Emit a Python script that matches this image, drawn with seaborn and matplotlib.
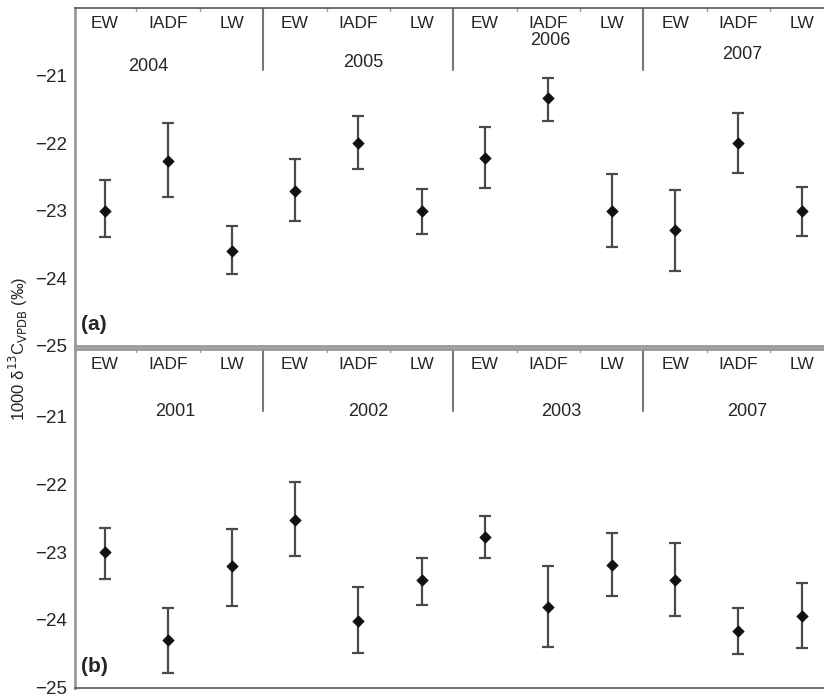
import numpy as np
import pandas as pd
import matplotlib
matplotlib.use("Agg")
import matplotlib.pyplot as plt
import seaborn as sns

sns.set_style("white")
plt.rcParams['font.family'] = ['Liberation Sans', 'DejaVu Sans']

# ------------------ DATA ------------------ #
categories = ["EW", "IADF", "LW"]

years_a = ["2004", "2005", "2006", "2007"]
mean_a = [-23.00, -22.26, -23.60, -22.71, -22.00, -23.00,
          -22.22, -21.33, -23.00, -23.29, -22.00, -23.00]
upper_a = [-22.55, -21.70, -23.23, -22.23, -21.59, -22.67,
           -21.76, -21.03, -22.46, -22.69, -21.55, -22.65]
lower_a = [-23.39, -22.80, -23.94, -23.15, -22.38, -23.35,
           -22.66, -21.67, -23.53, -23.89, -22.44, -23.37]

years_b = ["2001", "2002", "2003", "2007"]
mean_b = [-23.00, -24.30, -23.21, -22.52, -24.01, -23.41,
          -22.78, -23.81, -23.19, -23.41, -24.17, -23.94]
upper_b = [-22.65, -23.82, -22.66, -21.96, -23.52, -23.09,
           -22.47, -23.21, -22.72, -22.87, -23.83, -23.45]
lower_b = [-23.40, -24.79, -23.79, -23.05, -24.49, -23.78,
           -23.09, -24.40, -23.65, -23.94, -24.50, -24.42]

# year label placement (x in category units, y in data units)
year_pos_a = [(0.69, -20.87), (4.08, -20.8), (7.03, -20.48), (10.06, -20.69)]
year_pos_b = [(1.11, -20.92), (4.16, -20.92), (7.2, -20.92), (10.14, -20.92)]

fig = plt.figure(figsize=(8.24, 6.98), dpi=100)
ax_a = fig.add_axes([0.091, 0.5043, 0.909, 0.4842])
ax_b = fig.add_axes([0.091, 0.015, 0.909, 0.485])


def draw_panel(ax, years, mean, upper, lower, year_pos, tag):
    n = len(mean)
    df = pd.DataFrame({
        "pos": np.arange(n),
        "cat": categories * len(years),
        "mean": mean,
        "upper": upper,
        "lower": lower,
    })
    yerr = np.vstack([df["mean"] - df["lower"], df["upper"] - df["mean"]])
    ax.errorbar(df["pos"], df["mean"], yerr=yerr, fmt="none",
                ecolor="#4a4a4a", elinewidth=1.6, capsize=4.5, capthick=1.6,
                zorder=2)
    sns.scatterplot(data=df, x="pos", y="mean", marker="D", s=34,
                    color="#111111", edgecolor="#111111", ax=ax, zorder=3,
                    legend=False)

    ax.set_xlim(-0.47, 11.35)
    ax.set_ylim(-25, -20)
    ax.set_xlabel("")
    ax.set_ylabel("")
    ax.set_xticks([])
    ax.set_yticks([-25, -24, -23, -22, -21])
    ax.set_yticklabels([f"\u2212{abs(v)}" for v in ax.get_yticks().astype(int)])
    ax.tick_params(axis="y", labelsize=13.5, length=2, color="#aaaaaa", pad=4)

    # category headers and year labels
    for i, row in df.iterrows():
        ax.text(row["pos"], -20.23, row["cat"], ha="center", va="center",
                fontsize=12.5)
    for yr, (xp, yp) in zip(years, year_pos):
        ax.text(xp, yp, yr, ha="center", va="center", fontsize=13)

    # separators between years
    for xs in [2.5, 5.5, 8.5]:
        ax.plot([xs, xs], [-20, -20.92], color="#777777", lw=1.5, zorder=1)
    # small ticks along top between categories
    for xs in [0.5, 1.5, 3.5, 4.5, 6.5, 7.5, 9.5, 10.5]:
        ax.plot([xs, xs], [-20, -20.05], color="#999999", lw=1, zorder=1)

    ax.text(0.008, 0.035, tag, transform=ax.transAxes, fontsize=15,
            fontweight="bold", ha="left", va="bottom")

    ax.spines["right"].set_visible(False)
    ax.spines["left"].set_color("#999999")
    ax.spines["left"].set_linewidth(2.0)
    ax.spines["top"].set_color("#555555")
    ax.spines["top"].set_linewidth(1.2)
    ax.spines["bottom"].set_color("#999999")
    ax.spines["bottom"].set_linewidth(2.0)


draw_panel(ax_a, years_a, mean_a, upper_a, lower_a, year_pos_a, "(a)")
draw_panel(ax_b, years_b, mean_b, upper_b, lower_b, year_pos_b, "(b)")
ax_b.spines["bottom"].set_color("#555555")
ax_b.spines["bottom"].set_linewidth(1.2)
ax_b.spines["top"].set_color("#999999")
ax_b.spines["top"].set_linewidth(2.0)

fig.text(0.022, 0.5, r"1000 δ$^{13}$C$_{\mathrm{VPDB}}$ (‰)", rotation=90,
         ha="center", va="center", fontsize=12)

fig.savefig("out.png", dpi=100)
